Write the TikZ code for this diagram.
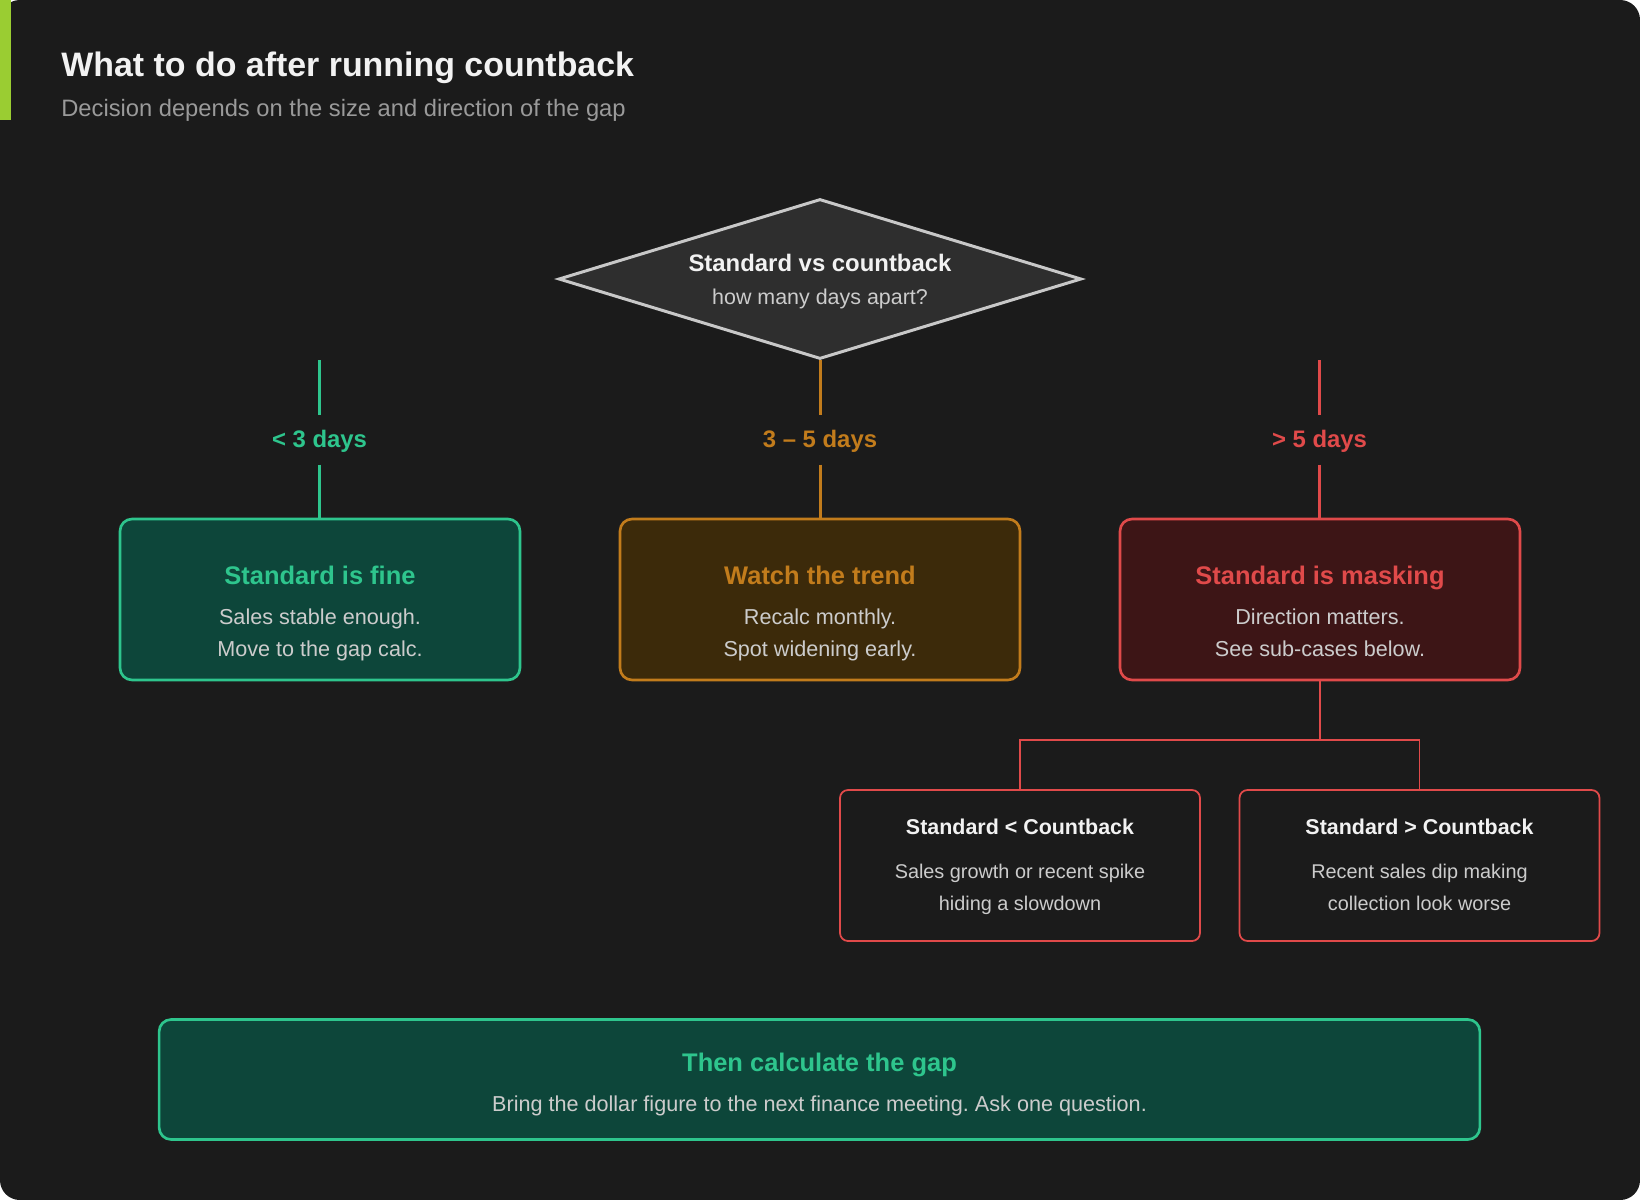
\documentclass[tikz,border=0pt]{standalone}
\usepackage{fontspec}
\setmainfont{Liberation Sans}
\usetikzlibrary{positioning,shapes.geometric}
\definecolor{bg}{HTML}{1B1B1B}
\definecolor{accent}{HTML}{9ACD32}
\definecolor{headtext}{HTML}{F2F2F2}
\definecolor{subtext}{HTML}{9A9A9A}
\definecolor{bodytext}{HTML}{CCCCCC}
\definecolor{qfill}{HTML}{2E2E2E}
\definecolor{qline}{HTML}{C8C8C8}
\definecolor{good}{HTML}{2EC58D}
\definecolor{goodfill}{HTML}{0D463A}
\definecolor{warn}{HTML}{C27C1C}
\definecolor{warnfill}{HTML}{3C2A0A}
\definecolor{bad}{HTML}{E04A4A}
\definecolor{badfill}{HTML}{3D1516}
\newcommand{\fsz}[1]{\fontsize{#1pt}{#1pt}\selectfont}
\frenchspacing

\begin{document}
\begin{tikzpicture}[x=0.02cm, y=-0.02cm,
  card/.style 2 args={draw=#1, fill=#2, line width=1.5pt, rounded corners=6.8pt,
    minimum width=8cm, minimum height=3.22cm, inner sep=0pt},
  subcard/.style={draw=bad, fill=bg, line width=1pt, rounded corners=4.5pt,
    minimum width=7.2cm, minimum height=3.02cm, inner sep=0pt},
  cardtitle/.style={anchor=base, inner sep=0pt, text=#1, font=\bfseries\fsz{14.5}},
  cardbody/.style={anchor=base, inner sep=0pt, text=bodytext, font=\fsz{12.3}},
  branch/.style={minimum height=0.98cm, inner sep=0pt, text height=0.4cm, text depth=0.096cm,
    text=#1, font=\bfseries\fsz{13.6}},
  link/.style={draw=#1, line width=1.7pt}]
  \useasboundingbox (0,0) rectangle (1640,1200);
  \fill[white] (0,0) rectangle (1640,1200);
  \fill[bg, rounded corners=11.3pt] (0,0) rectangle (1640,1200);
  \fill[accent] (0,0) rectangle (11,120);
  % heading
  \node[anchor=base west, inner sep=0pt, text=headtext, font=\bfseries\fsz{19.3}] (title) at (61,76)
        {What to do after running countback};
  \node[anchor=base west, inner sep=0pt, text=subtext, font=\fsz{13.5}] (subtitle) at (61,116)
        {Decision depends on the size and direction of the gap};
  % question
  \node[diamond, draw=qline, fill=qfill, line width=1.7pt, inner sep=0pt,
        minimum width=10.46cm, minimum height=3.2cm] (q) at (820,279) {};
  \node[anchor=base, inner sep=0pt, text=headtext, font=\bfseries\fsz{13.6}] (qT) at (820,271.7)
        {Standard vs countback};
  \node[anchor=base, inner sep=0pt, text=bodytext, font=\fsz{12.2}] (qS) at (820,304.3)
        {how many days apart?};
  % branch labels
  \coordinate (lefttop) at (319.5,360);
  \coordinate (righttop) at (1319.5,360);
  \node[branch=good] (lowL) at (319.5,439.7) {< 3 days};
  \node[branch=warn] (midL) at (820,439.7) {3 – 5 days};
  \node[branch=bad] (highL) at (1319.5,439.7) {> 5 days};
  % outcome cards
  \node[card={good}{goodfill}] (fine) at (320,599.5) {};
  \node[cardtitle=good] (fineT) at (320,584.3) {Standard is fine};
  \node[cardbody] (fineA) at (320,624.3) {Sales stable enough.};
  \node[cardbody] (fineB) at (320,656) {Move to the gap calc.};
  \node[card={warn}{warnfill}] (trend) at (820,599.5) {};
  \node[cardtitle=warn] (trendT) at (820,584.3) {Watch the trend};
  \node[cardbody] (trendA) at (820,624.3) {Recalc monthly.};
  \node[cardbody] (trendB) at (820,656) {Spot widening early.};
  \node[card={bad}{badfill}] (mask) at (1320,599.5) {};
  \node[cardtitle=bad] (maskT) at (1320,584.3) {Standard is masking};
  \node[cardbody] (maskA) at (1320,624.3) {Direction matters.};
  \node[cardbody] (maskB) at (1320,656) {See sub-cases below.};
  \draw[link=good] (lefttop) -- (lowL.north);
  \draw[link=good] (lowL.south) -- (lowL.south |- fine.north);
  \draw[link=warn] (q.south) -- (midL.north);
  \draw[link=warn] (midL.south) -- (trend.north);
  \draw[link=bad] (righttop) -- (highL.north);
  \draw[link=bad] (highL.south) -- (highL.south |- mask.north);
  % sub-cases
  \node[subcard] (lower) at (1020,865.5) {};
  \node[anchor=base, inner sep=0pt, text=headtext, font=\bfseries\fsz{12.2}] (lowerT) at (1020,834)
        {Standard < Countback};
  \node[anchor=base, inner sep=0pt, text=bodytext, font=\fsz{11.3}] (lowerA) at (1020,878.3)
        {Sales growth or recent spike};
  \node[anchor=base, inner sep=0pt, text=bodytext, font=\fsz{11.3}] (lowerB) at (1020,910)
        {hiding a slowdown};
  \node[subcard] (higher) at (1419.5,865.5) {};
  \node[anchor=base, inner sep=0pt, text=headtext, font=\bfseries\fsz{12.2}] (higherT) at (1419.5,834)
        {Standard > Countback};
  \node[anchor=base, inner sep=0pt, text=bodytext, font=\fsz{11.3}] (higherA) at (1419.5,878.3)
        {Recent sales dip making};
  \node[anchor=base, inner sep=0pt, text=bodytext, font=\fsz{11.3}] (higherB) at (1419.5,910)
        {collection look worse};
  \coordinate (fork) at (1320,740);
  \draw[draw=bad, line width=1.1pt] (mask.south) -- (fork);
  \draw[draw=bad, line width=1.1pt] (lower.north) |- (fork) -| (higher.north);
  % next step
  \node[card={good}{goodfill}, minimum width=26.42cm, minimum height=2.4cm] (gap) at (819.5,1079.5) {};
  \node[cardtitle=good] (gapT) at (819.5,1071.7) {Then calculate the gap};
  \node[cardbody] (gapA) at (819.5,1111.7)
        {Bring the dollar figure to the next finance meeting. Ask one question.};
\end{tikzpicture}
\end{document}
